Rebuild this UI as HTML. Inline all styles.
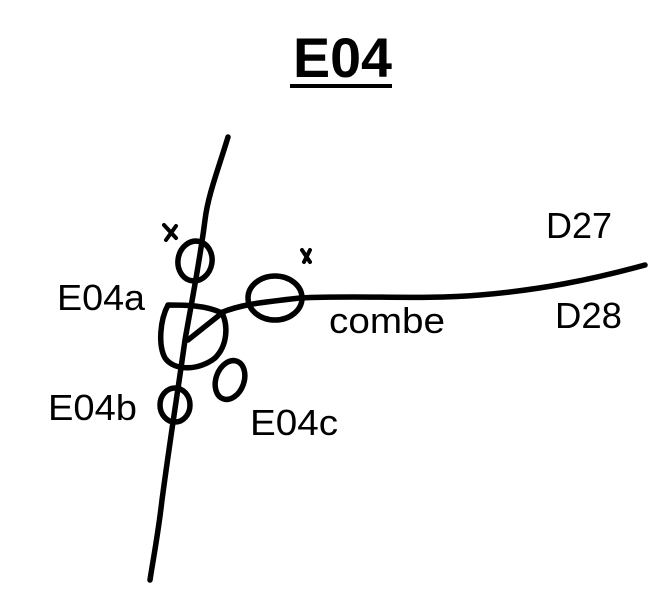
<!DOCTYPE html>
<html><head><meta charset="utf-8"><style>
html,body{margin:0;padding:0;background:#fff;}
svg{display:block;}
text{font-family:"Liberation Sans",sans-serif;fill:#000;}
</style></head><body>
<svg width="672" height="603" viewBox="0 0 672 603">
<text x="293" y="77" textLength="99" lengthAdjust="spacingAndGlyphs" font-size="56" font-weight="bold">E04</text>
<rect x="290" y="84" width="102" height="4" fill="#000"/>
<g fill="none" stroke="#000" stroke-width="5.5" stroke-linecap="round" stroke-linejoin="round">
<path d="M228,137 C218,170 208,195 205,220 C200,260 192,300 185,340 C178,390 170,440 162,500 C158,535 153,560 150,580"/>
<ellipse cx="195" cy="261" rx="17" ry="20" transform="rotate(10 195 261)"/>
<ellipse cx="275" cy="298" rx="27" ry="22"/>
<path d="M168,305 C160,320 158,345 165,358 C175,372 200,370 215,358 C228,345 228,325 222,313 C205,305 185,305 168,305 Z"/>
<path d="M222,313 L188,340"/>
<path d="M220,313 C240,305 255,303 300,298 C360,295 420,300 480,295 C540,290 590,280 645,265"/>
<ellipse cx="230" cy="380" rx="14" ry="20" transform="rotate(20 230 380)"/>
<ellipse cx="175" cy="405" rx="15" ry="17"/>
<path d="M164,225 L176,238 M176,226 L166,240" stroke-width="4"/>
<path d="M302,250 L310,262 M310,250 L304,262" stroke-width="4"/>
</g>
<text x="57" y="310" font-size="36" textLength="88" lengthAdjust="spacingAndGlyphs">E04a</text>
<text x="329" y="333" font-size="36" textLength="116" lengthAdjust="spacingAndGlyphs">combe</text>
<text x="546" y="238" font-size="36" textLength="66" lengthAdjust="spacingAndGlyphs">D27</text>
<text x="555" y="328" font-size="36" textLength="67" lengthAdjust="spacingAndGlyphs">D28</text>
<text x="48" y="420" font-size="36" textLength="89" lengthAdjust="spacingAndGlyphs">E04b</text>
<text x="250" y="435" font-size="36" textLength="88" lengthAdjust="spacingAndGlyphs">E04c</text>
</svg>
</body></html>
